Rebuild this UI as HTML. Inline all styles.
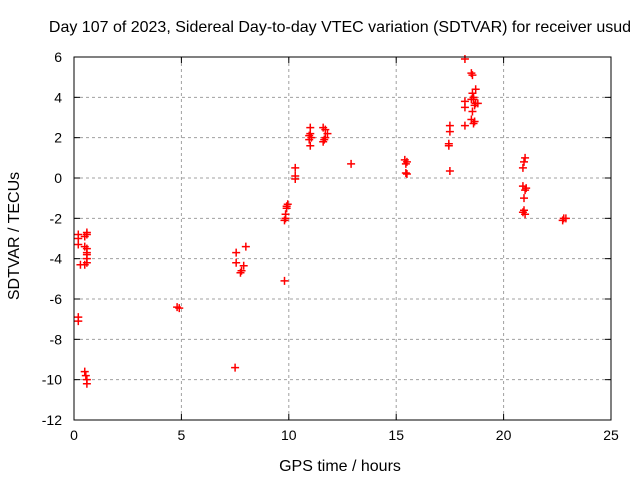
<!DOCTYPE html>
<html><head><meta charset="utf-8"><style>
body{margin:0;background:#fff;}
text{font-family:"Liberation Sans",sans-serif;font-size:14px;fill:#000;}
.big{font-size:16px;}
</style></head><body>
<svg id="chart" width="640" height="480" xmlns="http://www.w3.org/2000/svg">
<text class="big" x="340" y="32" text-anchor="middle">Day 107 of 2023, Sidereal Day-to-day VTEC variation (SDTVAR) for receiver usud</text>
<text class="big" x="340" y="471" text-anchor="middle">GPS time / hours</text>
<text class="big" transform="translate(19,236) rotate(-90)" text-anchor="middle">SDTVAR / TECUs</text>
<g id="grid"></g><g id="ticks"></g><g id="marks"></g>
<rect x="74" y="57" width="537" height="363" fill="none" stroke="#000" stroke-width="1"/>
</svg>
<script>
const xTicks=[0,5,10,15,20,25];
const yTicks=[6,4,2,0,-2,-4,-6,-8,-10,-12];
const hours=[0.2,0.2,0.2,0.3,0.6,0.6,0.5,0.5,0.6,0.6,0.6,0.6,0.6,0.5,0.2,0.2,0.5,0.55,0.6,0.6,
4.8,4.9,7.55,7.55,7.8,7.75,7.9,8.0,7.5,9.8,9.9,9.9,9.85,9.85,9.8,9.95,10.3,10.3,10.3,
11.0,11.0,10.95,11.0,11.05,10.95,11.6,11.7,11.8,11.7,11.6,11.65,12.9,
15.4,15.5,15.45,15.5,15.45,17.5,17.5,17.45,17.45,17.5,
18.2,18.5,18.55,18.5,18.2,18.2,18.6,18.7,18.65,18.7,18.55,18.5,18.6,18.65,18.2,18.55,18.8,18.6,
21.0,20.95,20.9,20.9,21.0,21.05,20.95,20.95,21.0,20.9,22.8,22.75,22.9];
const sdtvar=[-2.8,-3.0,-3.3,-4.3,-2.7,-2.8,-2.9,-3.4,-3.5,-3.7,-3.8,-4.0,-4.2,-4.3,-6.9,-7.1,-9.6,-9.8,-10.0,-10.2,
-6.4,-6.45,-3.7,-4.2,-4.6,-4.7,-4.35,-3.4,-9.4,-5.1,-1.4,-1.5,-1.8,-2.0,-2.1,-1.3,0.5,0.1,-0.05,
2.5,2.2,1.9,1.6,2.0,2.1,2.5,2.4,2.2,2.0,1.8,1.9,0.7,
0.9,0.8,0.7,0.2,0.25,2.6,2.3,1.7,1.6,0.35,
5.9,5.2,5.1,3.9,3.8,3.5,4.0,4.4,3.6,3.7,3.3,2.9,2.7,2.8,2.6,4.2,3.7,3.9,
1.0,0.8,0.5,-0.4,-0.6,-0.5,-1.0,-1.6,-1.8,-1.7,-2.0,-2.1,-2.0];
const X0=74,X1=611,Y0=57,Y1=420;
const xs=v=>X0+(v-0)/(25-0)*(X1-X0);
const ys=v=>Y1-(v+12)/(18)*(Y1-Y0);
const NS='http://www.w3.org/2000/svg';
function mk(t,a,p){const e=document.createElementNS(NS,t);for(const k in a)e.setAttribute(k,a[k]);p.appendChild(e);return e;}
const G=document.getElementById('grid'),T=document.getElementById('ticks'),M=document.getElementById('marks');
xTicks.forEach(v=>{const x=xs(v);
 if(v>0&&v<25){const g=mk('line',{x1:x,x2:x,y1:Y0,y2:Y1,stroke:'#a0a0a0','stroke-dasharray':'3,3'},G);
 
 }
 mk('line',{x1:x,x2:x,y1:Y1,y2:Y1-6,stroke:'#000'},T);mk('line',{x1:x,x2:x,y1:Y0,y2:Y0+6,stroke:'#000'},T);
 const t=mk('text',{x:x,y:Y1+20,'text-anchor':'middle'},T);t.textContent=v;
 
 });
yTicks.forEach(v=>{const y=ys(v);
 if(v>-12&&v<6){const g=mk('line',{x1:X0,x2:X1,y1:y,y2:y,stroke:'#a0a0a0','stroke-dasharray':'3,3'},G);
 
 }
 mk('line',{x1:X0,x2:X0+6,y1:y,y2:y,stroke:'#000'},T);mk('line',{x1:X1,x2:X1-6,y1:y,y2:y,stroke:'#000'},T);
 const t=mk('text',{x:X0-12,y:y+5,'text-anchor':'end'},T);t.textContent=v;
 
 });
hours.forEach((h,i)=>{const x=xs(h),y=ys(sdtvar[i]);
 const p=mk('path',{d:`M${x-4},${y}H${x+4}M${x},${y-4}V${y+4}`,stroke:'#ff0000','stroke-width':1.5},M);
 
 });
</script>
</body></html>
